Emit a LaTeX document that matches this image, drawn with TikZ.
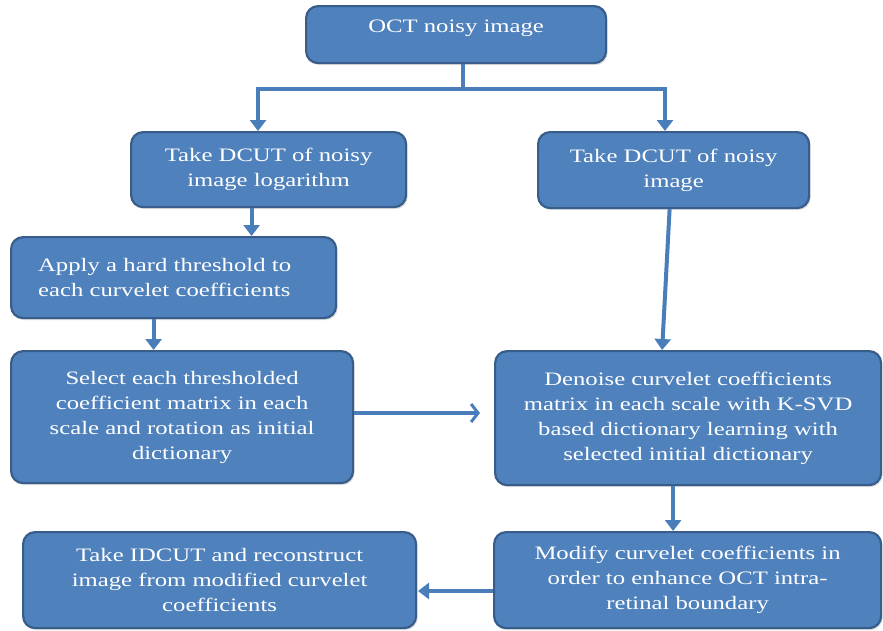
\documentclass[tikz,border=0pt]{standalone}
\usepackage{fontspec}
\setmainfont[FakeStretch=1.3]{Liberation Serif}
\usetikzlibrary{arrows.meta,shadows}
\definecolor{boxfill}{HTML}{4F81BD}
\definecolor{boxline}{HTML}{385D8A}
\definecolor{arrowc}{HTML}{4A7EBB}
\tikzset{
  box/.style={draw=boxline, line width=2.2pt, fill=boxfill, rounded corners=12pt,
    anchor=north west, text=white, align=center, inner sep=0pt,
    font=\fontsize{19}{25}\selectfont,
    drop shadow={opacity=0.25, shadow xshift=1.5pt, shadow yshift=-2pt}},
  conn/.style={draw=arrowc, line width=4pt},
  arr/.style={conn, -{Triangle[length=11pt,width=16pt]}},
  barb/.style={conn, -{Straight Barb[length=7pt,width=18pt,line width=3pt]}}
}
\begin{document}
\begin{tikzpicture}[x=1pt,y=-1pt]
\useasboundingbox (0,0) rectangle (883,630);
\node[box, minimum width=300pt, minimum height=57pt, text depth=16pt] (b1) at (305,5) {OCT noisy image};
\node[box, minimum width=275pt, minimum height=75pt] (b2) at (130,131) {Take DCUT of noisy\\image logarithm};
\node[box, minimum width=271pt, minimum height=76pt] (b3) at (537,131) {Take DCUT of noisy\\image};
\node[box, minimum width=325pt, minimum height=81pt, align=left, text width=271pt] (b4) at (10,236) {Apply a hard threshold to\\each curvelet coefficients\\[20pt]};
\node[box, minimum width=342pt, minimum height=132pt] (b5) at (10,350) {Select each thresholded\\coefficient matrix in each\\scale and rotation as initial\\dictionary};
\node[box, minimum width=386pt, minimum height=134pt] (b6) at (494,350) {Denoise curvelet coefficients\\matrix in each scale with K-SVD\\based dictionary learning with\\selected initial dictionary};
\node[box, minimum width=393pt, minimum height=96pt] (b7) at (22,531) {Take IDCUT and reconstruct\\image from modified curvelet\\coefficients};
\node[box, minimum width=387pt, minimum height=96pt] (b8) at (493,531) {Modify curvelet coefficients in\\order to enhance OCT intra-\\retinal boundary};
% connectors
\coordinate (split) at (463,89);
\coordinate (sl) at (258,89);
\coordinate (sr) at (665,89);
\draw[conn] (b1.south -| split) -- (split);
\draw[conn, line cap=rect] (sl) -- (sr);
\draw[arr] (sl) -- (sl |- b2.north);
\draw[arr] (sr) -- (sr |- b3.north);
\draw[arr] ([xshift=-17pt]b2.south) -- ([xshift=-17pt]b2.south |- b4.north);
\draw[arr] ([xshift=-20pt]b4.south) -- ([xshift=-20pt]b4.south |- b5.north);
\draw[arr] ([xshift=-4pt]b3.south) -- ([xshift=-26pt]b6.north);
\draw[barb] (b5.east |- 0,413) -- (480,413);
\draw[arr] ([xshift=-15pt]b6.south) -- ([xshift=-15pt]b6.south |- b8.north);
\draw[arr] (b8.west |- 0,591) -- (418,591);
\end{tikzpicture}
\end{document}
